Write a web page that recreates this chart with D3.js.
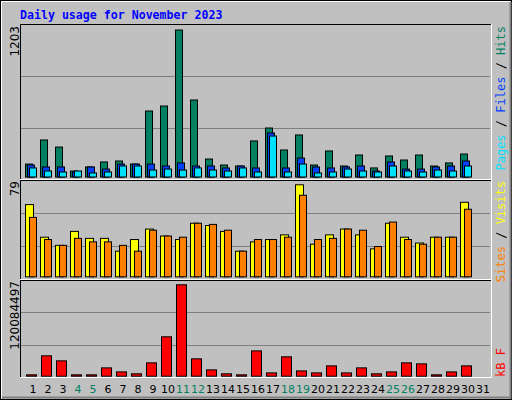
<!DOCTYPE html>
<html><head><meta charset="utf-8">
<script src="https://cdn.jsdelivr.net/npm/d3@7"></script>
<style>body{margin:0;background:#fff}svg{display:block}</style></head>
<body><svg id="c" width="512" height="400"></svg>
<script>
const days=d3.range(1,32);
const weekend=[4,5,11,12,18,19,25,26];
const hits=[106,303,245,49,82,123,131,106,540,581,1203,630,147,98,90,295,401,221,344,98,213,90,180,74,172,139,180,90,115,188];
const files=[98,82,82,41,82,65,106,106,106,90,115,90,90,74,90,74,360,74,155,82,74,82,90,49,123,65,65,82,90,131];
const pages=[74,49,41,49,33,41,90,90,57,65,57,74,57,49,74,41,335,41,106,33,41,65,49,41,90,49,41,57,49,90];
const visits=[62,34,27,39,33,33,22,32,41,35,32,46,44,39,22,30,32,36,79,28,36,41,36,24,46,34,29,34,34,64];
const sites=[51,32,27,33,30,30,27,22,40,35,34,46,45,40,22,32,32,34,70,32,33,41,40,26,47,32,28,34,34,58];
const kbFrac=[.015,.223,.168,.015,.015,.091,.047,.026,.146,.431,1,.19,.069,.026,.015,.277,.036,.212,.058,.036,.113,.036,.091,.026,.047,.146,.135,.015,.047,.113];
const kbMax=120084497;
const kbytes=kbFrac.map(f=>Math.round(f*kbMax));

const svg=d3.select("#c");
svg.append("rect").attr("width",512).attr("height",400).attr("fill","#c0c0c0");
svg.append("rect").attr("x",0.5).attr("y",0.5).attr("width",511).attr("height",399).attr("fill","none").attr("stroke","#000");
svg.append("path").attr("d","M1.5,398.5V1.5H510.5").attr("stroke","#fff").attr("fill","none");
svg.append("path").attr("d","M2,397.5H510.5V2").attr("stroke","#808080").attr("fill","none").attr("stroke-width",2);

svg.append("text").attr("x",20).attr("y",19).attr("fill","#0000ff").attr("font-family","DejaVu Sans Mono").attr("font-weight","bold").attr("font-size","11.6px").text("Daily usage for November 2023");

const x=d3.scaleBand().domain(days).range([25,490]).paddingInner(0).paddingOuter(0);
// x(d) = 25+15*(d-1)
const panels=[{y0:25,y1:179},{y0:180,y1:279},{y0:280,y1:377}];
panels.forEach(p=>{
  svg.append("rect").attr("x",20).attr("y",p.y0).attr("width",471).attr("height",p.y1-p.y0).attr("fill","#c0c0c0");
  [1,2].forEach(k=>{const gy=Math.round(p.y0+(p.y1-p.y0)*k/3)+0.5;
    svg.append("line").attr("x1",21).attr("x2",490).attr("y1",gy).attr("y2",gy).attr("stroke","#808080");});
});
// frame lines
svg.append("path").attr("d","M20.5,377V24.5H491").attr("stroke","#000").attr("fill","none");
svg.append("path").attr("d","M20,377.5H491.5V24").attr("stroke","#fff").attr("fill","none");
svg.append("line").attr("x1",20).attr("x2",491).attr("y1",179.5).attr("y2",179.5).attr("stroke","#fff");
svg.append("line").attr("x1",20).attr("x2",491).attr("y1",180.5).attr("y2",180.5).attr("stroke","#000");
svg.append("line").attr("x1",20).attr("x2",491).attr("y1",279.5).attr("y2",279.5).attr("stroke","#fff");
svg.append("line").attr("x1",20).attr("x2",491).attr("y1",280.5).attr("y2",280.5).attr("stroke","#000");

function bars(data,y,off,w,color){
  svg.append("g").selectAll("rect").data(data).join("rect")
   .attr("x",(d,i)=>x(days[i])+off+0.5).attr("y",d=>y(d)+0.5).attr("width",w)
   .attr("height",d=>Math.max(0.5,y(0)-y(d))).attr("fill",color).attr("stroke","#000");
}
const yTop=d3.scaleLinear().domain([0,1203]).range([176.5,29.5]);
bars(hits,yTop,0,7,"#008060");
bars(files,yTop,2,7,"#0040ff");
bars(pages,yTop,4,7,"#00e0ff");
const yMid=d3.scaleLinear().domain([0,79]).range([276.3,184.3]);
bars(visits,yMid,0,8,"#ffff00");
bars(sites,yMid,4,7,"#ff8000");
const yBot=d3.scaleLinear().domain([0,kbMax]).range([375.7,284.3]);
bars(kbytes,yBot,1,10,"#ff0000");

function vlabel(xp,yp,anchor,parts,mono){
  const t=svg.append("text").attr("transform",`translate(${xp},${yp}) rotate(-90)`).attr("text-anchor",anchor)
   .attr("font-family",mono?"DejaVu Sans Mono":"DejaVu Sans").attr("font-size","12px");
  parts.forEach(([s,c])=>t.append("tspan").attr("fill",c).text(s));
}
vlabel(19,26,"end",[["1203","#000"]]);
vlabel(19,181,"end",[["79","#000"]]);
vlabel(19,281,"end",[["120084497","#000"]]);
vlabel(505,26,"end",[["Pages","#00e0ff"],[" / ","#000"],["Files","#0040ff"],[" / ","#000"],["Hits","#008060"]],true);
vlabel(505,181,"end",[["Sites","#ff8000"],[" / ","#000"],["Visits","#ffff00"]],true);
vlabel(505,377,"start",[["kB F","#ff0000"]],true);

svg.append("g").selectAll("text").data(days).join("text")
 .attr("x",d=>x(d)+8).attr("y",393).attr("text-anchor","middle")
 .attr("font-family","DejaVu Sans").attr("font-size","11px")
 .attr("fill",d=>weekend.includes(d)?"#008060":"#000").text(d=>d);
</script></body></html>
